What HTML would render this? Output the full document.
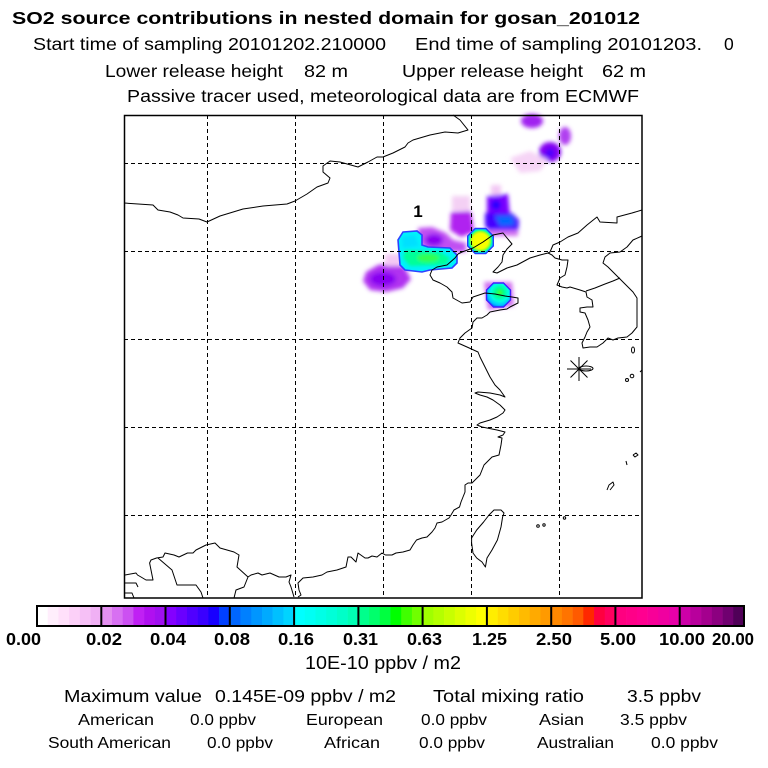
<!DOCTYPE html>
<html><head><meta charset="utf-8"><style>
html,body{margin:0;padding:0;background:#fff;}
svg{display:block;}
text{font-family:"Liberation Sans",sans-serif;fill:#000;}
</style></head><body>
<svg width="768" height="768" viewBox="0 0 768 768" xmlns="http://www.w3.org/2000/svg">
<defs>
<filter id="b3" x="-50%" y="-50%" width="200%" height="200%"><feGaussianBlur stdDeviation="2.2"/></filter>
<filter id="b1" x="-50%" y="-50%" width="200%" height="200%"><feGaussianBlur stdDeviation="1.5"/></filter>
<radialGradient id="gy" cx="50%" cy="50%" r="50%">
<stop offset="0" stop-color="#ffff00"/><stop offset="0.6" stop-color="#f4ff00"/><stop offset="0.75" stop-color="#a0ff20"/><stop offset="0.88" stop-color="#00ffb0"/><stop offset="1" stop-color="#00c8ff"/></radialGradient>
<radialGradient id="gs" cx="55%" cy="40%" r="60%">
<stop offset="0" stop-color="#40ff30"/><stop offset="0.3" stop-color="#00ff90"/><stop offset="0.6" stop-color="#00ffe0"/><stop offset="0.85" stop-color="#00c8ff"/><stop offset="1" stop-color="#0080ff"/></radialGradient>
</defs>
<rect width="768" height="768" fill="#fff"/>

<!-- Header text -->
<text x="12" y="24" font-size="17.5" font-weight="bold" textLength="628" lengthAdjust="spacingAndGlyphs">SO2 source contributions in nested domain for gosan_201012</text>
<text x="33" y="50" font-size="17.5" textLength="353" lengthAdjust="spacingAndGlyphs">Start time of sampling 20101202.210000</text>
<text x="415" y="50" font-size="17.5" textLength="287" lengthAdjust="spacingAndGlyphs">End time of sampling 20101203.</text>
<text x="724" y="50" font-size="17.5">0</text>
<text x="105" y="77" font-size="17.5" textLength="178" lengthAdjust="spacingAndGlyphs">Lower release height</text>
<text x="304" y="77" font-size="17.5" textLength="44" lengthAdjust="spacingAndGlyphs">82 m</text>
<text x="402" y="77" font-size="17.5" textLength="181" lengthAdjust="spacingAndGlyphs">Upper release height</text>
<text x="602" y="77" font-size="17.5" textLength="44" lengthAdjust="spacingAndGlyphs">62 m</text>
<text x="127" y="102" font-size="17.5" textLength="512" lengthAdjust="spacingAndGlyphs">Passive tracer used, meteorological data are from ECMWF</text>

<!-- Plume: soft parts -->
<g filter="url(#b3)">
<polygon points="366,272 378,265 398,262 405,268 411,279 403,288 386,292 370,290 363,281" fill="#b030f0"/>
<ellipse cx="383" cy="279" rx="13" ry="7" fill="#8800f0"/>
<rect x="385" y="254" width="16" height="12" fill="#f4c8f4"/>
<polygon points="418,228 432,227 446,233 453,240 466,243 466,252 445,252 425,250 418,240" fill="#c050f2"/>
<ellipse cx="434" cy="240" rx="9" ry="6" fill="#8a00f0"/>
<polygon points="451,212 471,211 474,232 461,237 450,230" fill="#b020f0"/>
<rect x="452" y="196" width="18" height="15" fill="#f4d0f4"/>
<rect x="491" y="185" width="10" height="12" fill="#f2c8f4"/>
<polygon points="487,196 508,194 510,216 487,216" fill="#7800ff"/>
<circle cx="496" cy="205" r="5" fill="#2800ff"/>
<polygon points="485,213 512,213 519,220 518,233 490,235 485,225" fill="#4400ff"/>
<polygon points="495,216 512,216 515,225 500,226" fill="#0068ff"/>
<rect x="487" y="230" width="31" height="6" fill="#d070f0"/>
<ellipse cx="532" cy="121" rx="11" ry="7" fill="#a020f0"/>
<ellipse cx="565" cy="136" rx="6" ry="9" fill="#b040f0"/>
<ellipse cx="550" cy="152" rx="11" ry="10" fill="#8400f0"/>
<circle cx="550" cy="153" r="4.5" fill="#4800ff"/>
<polygon points="510,158 530,151 548,160 540,171 520,173" fill="#f6d4f6"/>
<polygon points="484,282 512,282 514,306 488,310" fill="#d070f0"/>
</g>

<!-- Plume: sharp parts -->
<polygon points="403,232 417,231 422,235 422,245 428,247 450,248 457,255 457,263 452,268 430,270 422,272 405,270 400,265 398,240" fill="#00f2fa" stroke="#3040ff" stroke-width="1.6"/>
<g filter="url(#b1)">
<polygon points="405,250 440,252 450,258 446,265 410,266 403,258" fill="#00ff98"/>
<ellipse cx="428" cy="258" rx="11" ry="4" fill="#30ff50"/>
<polygon points="402,237 415,235 419,246 403,248" fill="#00e0ff"/>
</g>
<polygon points="475.2,228.5 485.8,228.5 493.3,236 493.3,246 485.8,253.5 475.2,253.5 467.7,246 467.7,236" fill="url(#gy)" stroke="#2040ff" stroke-width="1.4"/>
<polygon points="493.5,283 503.5,283 510.5,290 510.5,300 503.5,307 493.5,307 486.5,300 486.5,290" fill="url(#gs)" stroke="#4020ff" stroke-width="1.4"/>

<!-- Grid -->
<g stroke="#000" stroke-width="1" stroke-dasharray="4 3" fill="none">
<line x1="207.5" y1="115" x2="207.5" y2="598"/>
<line x1="295.5" y1="115" x2="295.5" y2="598"/>
<line x1="383.5" y1="115" x2="383.5" y2="598"/>
<line x1="471.5" y1="115" x2="471.5" y2="598"/>
<line x1="559.5" y1="115" x2="559.5" y2="598"/>
<line x1="124" y1="163.5" x2="642" y2="163.5"/>
<line x1="124" y1="251.5" x2="642" y2="251.5"/>
<line x1="124" y1="339.5" x2="642" y2="339.5"/>
<line x1="124" y1="427.5" x2="642" y2="427.5"/>
<line x1="124" y1="515.5" x2="642" y2="515.5"/>
</g>

<!-- Coastlines / borders -->
<g stroke="#000" stroke-width="1" fill="none" stroke-linejoin="round">
<polyline points="124,203 153,205 158,210 170,212 178,215 183,218 199,219 207,222 220,216 243,209 263,206 287,204 295,201 307,194 317,187 328,183 330,178 323,172 323,166 330,161 340,162 358,167 368,162 377,157 383,157 393,153 405,147 408,143 413,140 430,135 445,132 458,133 468,130 460,120 453,115"/>
<polyline points="642,210 632,213 617,217 617,223 600,222 597,217 587,225 578,233 568,237 560,242 553,245 550,252 548,253"/>
<polyline points="458,254 462,252 473,248 483,242 493,235 503,233 507,238 512,244 507,249 503,255 502,262 498,267 493,272 497,273 507,268 517,265 530,258 540,255 548,253 552,255 555,258 562,260 568,260 567,267 565,275 560,278 557,285 562,287 567,288 570,287 580,290 586,292 587,297 592,300 593,307 587,307 580,308 580,312 585,313 588,320 590,327 587,332 585,337 582,343 583,348 590,347 597,347 603,343 608,338 613,340 618,338 627,337 632,333 637,327 637,317 637,307 637,298 633,292 628,287 623,282 618,277 613,272 608,267 603,263 605,257 610,253 620,252 627,247 633,240 642,236"/>
<polyline points="586,291 595,288 605,284 613,281 620,278"/>
<polyline points="458,254 455,258 447,265 437,267 432,270 430,275 433,280 440,283 447,287 452,292 453,298 462,303 470,302 473,297 485,293 495,294 505,296 512,297 518,298 518,303 510,307 507,309 500,310 490,312 487,315 482,318 477,318 473,322 472,328 465,333 460,338 458,343 467,347 478,352 480,357 485,367 490,377 495,385 500,390 505,397 500,395 490,393 478,392 475,393 480,395 487,397 493,400 500,405 505,410 503,413 497,417 490,420 480,423 477,425 482,427 487,428 497,430 505,432 503,435 498,437 502,438 501,445 499,455 492,457 489,460 484,465 482,470 480,475 475,480 472,483 468,483 465,485 465,492 463,497 461,502 459.5,507 454,510 451,515 449,518 442,522 437,523 435,528 432,532 427,537 422,538 416.5,540 413,545 410,550 403,552 396,553 392,555 385.5,555 382,553 377,557 372,556 368,558 365,558 358,553 356,562 351,557 348,557 346,567 337,570 327,572 322,575 313,577 303,578 298,583 299,590 301,595 298,597"/>
<polyline points="294,597 291,587 289,582 291,575 286,577 279,577 270,573 262,575 258,573 251,575 248,577 237,567 239,555 234,552 220,548 215,543 206,545 196,550 193,553 187.5,553 179,557 174,555 165,553 163,557 156.5,558 151,560 149.6,563 151,570 153,580 146,580 141,577 137.5,575 136,573 125,575"/>
<polyline points="248,577 244,587 236,590 234,598"/>
<polyline points="158,558 172,570 177,585 196,585 201,592 203,598"/>
<polyline points="125,583 136,583 138,587"/>
<polyline points="125,593 132,593 134,598"/>
<polygon points="494,510 501,510 504,513 502.6,517 501,527 497.4,540 492,550 487,558 485.4,567 482,562 476.7,558 473,553 471.6,543 471.6,538 476.7,530 483.6,522 489,515"/>
<ellipse cx="586" cy="368.5" rx="7" ry="2.5"/>
<ellipse cx="633" cy="350" rx="1.5" ry="3"/>
<circle cx="627" cy="380" r="1.5"/>
<circle cx="632" cy="376" r="1.8"/>
<polyline points="607,490 609,485 613,482 614,485 610,490"/>
<line x1="626" y1="461" x2="627" y2="465"/>
<polyline points="633,455 636,453 638,455 635,457 633,455"/>
<circle cx="538" cy="526" r="1.3"/>
<circle cx="544" cy="525" r="1.2"/>
<circle cx="564.5" cy="518" r="1.2"/>
<polyline points="642,370 640,372"/>
</g>
<!-- Site marker -->
<g stroke="#000" stroke-width="1">
<line x1="567" y1="369" x2="591" y2="369"/>
<line x1="579" y1="357" x2="579" y2="381"/>
<line x1="570.5" y1="360.5" x2="587.5" y2="377.5"/>
<line x1="587.5" y1="360.5" x2="570.5" y2="377.5"/>
</g>
<text x="418" y="217" font-size="17" font-weight="bold" text-anchor="middle">1</text>

<!-- Frame -->
<rect x="124.5" y="115.5" width="517.5" height="482.5" fill="none" stroke="#000" stroke-width="1.5"/>

<!-- Colorbar -->
<g>
<rect x="37" y="606" width="11" height="20" fill="#ffffff"/>
<rect x="47.71" y="606" width="11" height="20" fill="#ffeefc"/>
<rect x="58.42" y="606" width="11" height="20" fill="#ffe0fa"/>
<rect x="69.14" y="606" width="11" height="20" fill="#fcd0f8"/>
<rect x="79.85" y="606" width="11" height="20" fill="#f6c0f6"/>
<rect x="90.56" y="606" width="11" height="20" fill="#f0b0f4"/>
<rect x="101.27" y="606" width="11" height="20" fill="#e490f0"/>
<rect x="111.98" y="606" width="11" height="20" fill="#d870f2"/>
<rect x="122.70" y="606" width="11" height="20" fill="#cc50f2"/>
<rect x="133.41" y="606" width="11" height="20" fill="#c020f4"/>
<rect x="144.12" y="606" width="11" height="20" fill="#b010f0"/>
<rect x="154.83" y="606" width="11" height="20" fill="#a010f0"/>
<rect x="165.54" y="606" width="11" height="20" fill="#8400ff"/>
<rect x="176.26" y="606" width="11" height="20" fill="#6a00ff"/>
<rect x="186.97" y="606" width="11" height="20" fill="#5000ff"/>
<rect x="197.68" y="606" width="11" height="20" fill="#3a00ff"/>
<rect x="208.39" y="606" width="11" height="20" fill="#1800ff"/>
<rect x="219.10" y="606" width="11" height="20" fill="#0040ff"/>
<rect x="229.82" y="606" width="11" height="20" fill="#0066ff"/>
<rect x="240.53" y="606" width="11" height="20" fill="#0080ff"/>
<rect x="251.24" y="606" width="11" height="20" fill="#0096ff"/>
<rect x="261.95" y="606" width="11" height="20" fill="#00aaff"/>
<rect x="272.66" y="606" width="11" height="20" fill="#00c0ff"/>
<rect x="283.38" y="606" width="11" height="20" fill="#00d4ff"/>
<rect x="294.09" y="606" width="11" height="20" fill="#00ffff"/>
<rect x="304.80" y="606" width="11" height="20" fill="#00fff4"/>
<rect x="315.51" y="606" width="11" height="20" fill="#00ffe6"/>
<rect x="326.22" y="606" width="11" height="20" fill="#00ffd8"/>
<rect x="336.94" y="606" width="11" height="20" fill="#00ffc8"/>
<rect x="347.65" y="606" width="11" height="20" fill="#00ffb4"/>
<rect x="358.36" y="606" width="11" height="20" fill="#00ff8c"/>
<rect x="369.07" y="606" width="11" height="20" fill="#00ff6c"/>
<rect x="379.78" y="606" width="11" height="20" fill="#00ff40"/>
<rect x="390.50" y="606" width="11" height="20" fill="#00ff00"/>
<rect x="401.21" y="606" width="11" height="20" fill="#40ff00"/>
<rect x="411.92" y="606" width="11" height="20" fill="#70ff00"/>
<rect x="422.63" y="606" width="11" height="20" fill="#a0ff00"/>
<rect x="433.34" y="606" width="11" height="20" fill="#b4ff00"/>
<rect x="444.06" y="606" width="11" height="20" fill="#c8ff00"/>
<rect x="454.77" y="606" width="11" height="20" fill="#dcff00"/>
<rect x="465.48" y="606" width="11" height="20" fill="#eeff00"/>
<rect x="476.19" y="606" width="11" height="20" fill="#ffff00"/>
<rect x="486.90" y="606" width="11" height="20" fill="#ffee00"/>
<rect x="497.62" y="606" width="11" height="20" fill="#ffdd00"/>
<rect x="508.33" y="606" width="11" height="20" fill="#ffcc00"/>
<rect x="519.04" y="606" width="11" height="20" fill="#ffbb00"/>
<rect x="529.75" y="606" width="11" height="20" fill="#ffaa00"/>
<rect x="540.46" y="606" width="11" height="20" fill="#ff9a00"/>
<rect x="551.18" y="606" width="11" height="20" fill="#ff8800"/>
<rect x="561.89" y="606" width="11" height="20" fill="#ff7400"/>
<rect x="572.60" y="606" width="11" height="20" fill="#ff5a00"/>
<rect x="583.31" y="606" width="11" height="20" fill="#ff2800"/>
<rect x="594.02" y="606" width="11" height="20" fill="#ff0040"/>
<rect x="604.74" y="606" width="11" height="20" fill="#ff0060"/>
<rect x="615.45" y="606" width="11" height="20" fill="#ff0080"/>
<rect x="626.16" y="606" width="11" height="20" fill="#ff0088"/>
<rect x="636.87" y="606" width="11" height="20" fill="#ff0090"/>
<rect x="647.58" y="606" width="11" height="20" fill="#f80098"/>
<rect x="658.30" y="606" width="11" height="20" fill="#f000a0"/>
<rect x="669.01" y="606" width="11" height="20" fill="#e800a8"/>
<rect x="679.72" y="606" width="11" height="20" fill="#cc00a8"/>
<rect x="690.43" y="606" width="11" height="20" fill="#b8009c"/>
<rect x="701.14" y="606" width="11" height="20" fill="#a4008e"/>
<rect x="711.86" y="606" width="11" height="20" fill="#8c0080"/>
<rect x="722.57" y="606" width="11" height="20" fill="#700070"/>
<rect x="733.28" y="606" width="10.72" height="20" fill="#500058"/>
</g>
<g stroke="#000" stroke-width="2">
<line x1="101.3" y1="606" x2="101.3" y2="626"/>
<line x1="165.5" y1="606" x2="165.5" y2="626"/>
<line x1="229.8" y1="606" x2="229.8" y2="626"/>
<line x1="294.1" y1="606" x2="294.1" y2="626"/>
<line x1="358.4" y1="606" x2="358.4" y2="626"/>
<line x1="422.6" y1="606" x2="422.6" y2="626"/>
<line x1="486.9" y1="606" x2="486.9" y2="626"/>
<line x1="551.2" y1="606" x2="551.2" y2="626"/>
<line x1="615.4" y1="606" x2="615.4" y2="626"/>
<line x1="679.7" y1="606" x2="679.7" y2="626"/>
</g>
<rect x="37" y="606" width="707" height="20" fill="none" stroke="#000" stroke-width="2"/>

<g font-size="17.5" font-weight="bold">
<text x="6" y="645" textLength="35" lengthAdjust="spacingAndGlyphs">0.00</text>
<text x="86" y="645" textLength="36" lengthAdjust="spacingAndGlyphs">0.02</text>
<text x="150" y="645" textLength="36" lengthAdjust="spacingAndGlyphs">0.04</text>
<text x="214" y="645" textLength="36" lengthAdjust="spacingAndGlyphs">0.08</text>
<text x="278" y="645" textLength="36" lengthAdjust="spacingAndGlyphs">0.16</text>
<text x="343" y="645" textLength="35" lengthAdjust="spacingAndGlyphs">0.31</text>
<text x="407" y="645" textLength="35" lengthAdjust="spacingAndGlyphs">0.63</text>
<text x="472" y="645" textLength="35" lengthAdjust="spacingAndGlyphs">1.25</text>
<text x="536" y="645" textLength="36" lengthAdjust="spacingAndGlyphs">2.50</text>
<text x="600" y="645" textLength="36" lengthAdjust="spacingAndGlyphs">5.00</text>
<text x="659" y="645" textLength="46" lengthAdjust="spacingAndGlyphs">10.00</text>
<text x="712" y="645" textLength="42" lengthAdjust="spacingAndGlyphs">20.00</text>
</g>

<!-- Footer text -->
<text x="305" y="669" font-size="18" textLength="156" lengthAdjust="spacingAndGlyphs">10E-10 ppbv / m2</text>
<g font-size="17.5">
<text x="64" y="702" textLength="138" lengthAdjust="spacingAndGlyphs">Maximum value</text>
<text x="215" y="702" textLength="181" lengthAdjust="spacingAndGlyphs">0.145E-09 ppbv / m2</text>
<text x="433" y="702" textLength="151" lengthAdjust="spacingAndGlyphs">Total mixing ratio</text>
<text x="627" y="702" textLength="74" lengthAdjust="spacingAndGlyphs">3.5 ppbv</text>
</g>
<g font-size="16">
<text x="78" y="725" textLength="76" lengthAdjust="spacingAndGlyphs">American</text>
<text x="190" y="725" textLength="66" lengthAdjust="spacingAndGlyphs">0.0 ppbv</text>
<text x="306" y="725" textLength="77" lengthAdjust="spacingAndGlyphs">European</text>
<text x="421" y="725" textLength="66" lengthAdjust="spacingAndGlyphs">0.0 ppbv</text>
<text x="539" y="725" textLength="45" lengthAdjust="spacingAndGlyphs">Asian</text>
<text x="620" y="725" textLength="67" lengthAdjust="spacingAndGlyphs">3.5 ppbv</text>
<text x="48" y="748" textLength="123" lengthAdjust="spacingAndGlyphs">South American</text>
<text x="207" y="748" textLength="66" lengthAdjust="spacingAndGlyphs">0.0 ppbv</text>
<text x="324" y="748" textLength="56" lengthAdjust="spacingAndGlyphs">African</text>
<text x="419" y="748" textLength="66" lengthAdjust="spacingAndGlyphs">0.0 ppbv</text>
<text x="537" y="748" textLength="77" lengthAdjust="spacingAndGlyphs">Australian</text>
<text x="651" y="748" textLength="67" lengthAdjust="spacingAndGlyphs">0.0 ppbv</text>
</g>
</svg>
</body></html>
